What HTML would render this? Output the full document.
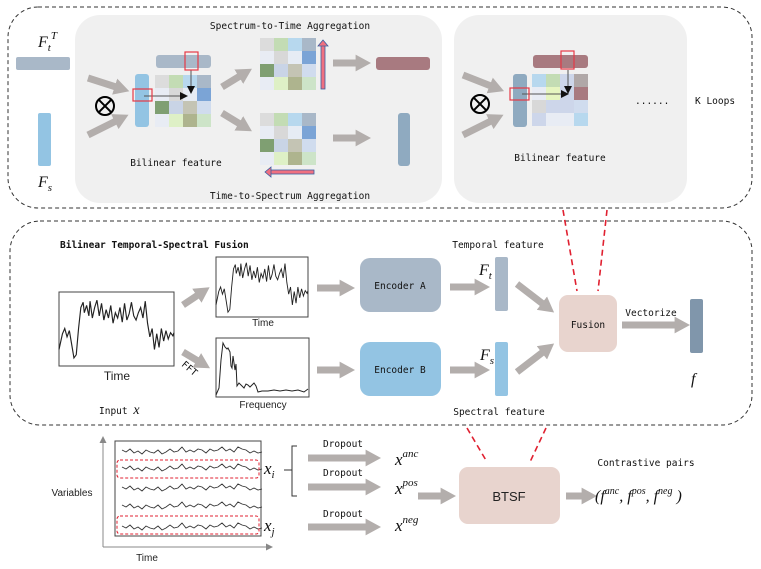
<!DOCTYPE html>
<html><head><meta charset="utf-8"><style>
html,body{margin:0;padding:0;background:#fff;}
svg{display:block;}
.m{font-family:"DejaVu Sans Mono","Liberation Mono",monospace;font-size:9.5px;fill:#111;}
.s{font-family:"Liberation Sans",sans-serif;fill:#222;}
.it{font-family:"Liberation Serif",serif;font-style:italic;fill:#111;}
</style></head><body>
<svg width="761" height="569" viewBox="0 0 761 569" xmlns="http://www.w3.org/2000/svg">
<defs>
<marker id="ah" markerWidth="2.2" markerHeight="2.4" refX="0.2" refY="1.2" orient="auto" markerUnits="strokeWidth">
<path d="M0,0 L2.2,1.2 L0,2.4 z" fill="#b3aeac"/></marker>
<marker id="bk" markerWidth="8" markerHeight="8" refX="7" refY="4" orient="auto" markerUnits="userSpaceOnUse">
<path d="M0,0 L8,4 L0,8 z" fill="#111"/></marker>
<path id="sig" d="M0,50 L3,35 5,30 7,38 9,32 11,45 13,58 15,55 17,30 19,10 21,5 22,15 24,8 26,18 27,4 29,20 31,10 33,3 35,18 37,6 39,22 41,12 43,20 45,8 47,25 49,15 51,20 53,10 55,24 57,6 59,22 61,16 63,5 65,18 67,22 69,15 71,10 73,20 75,4 77,25 79,38 81,30 83,50 85,35 87,48 89,30 91,42 93,32 95,40 97,34 99,37 100,34" fill="none" stroke="#222" stroke-width="1"/>
<path id="wig" d="M0,0 l4,2 4,-3 4,4 4,-2 4,3 4,-4 4,2 4,1 4,-3 4,4 4,-2 4,-3 4,3 4,-1 4,-4 4,5 4,-2 4,2 4,-3 4,1 4,3 4,-4 4,2 4,-1 4,-3 4,4 4,-2 4,3 4,-5 4,2 4,1 4,3 4,-2 4,2 4,-1" fill="none" stroke="#333" stroke-width="0.9"/>
<g id="mat1">
<rect x="0" y="0" width="14" height="13" fill="#dcdcdc"/><rect x="14" y="0" width="14" height="13" fill="#c3dcb4"/><rect x="28" y="0" width="14" height="13" fill="#b7d8ee"/><rect x="42" y="0" width="14" height="13" fill="#a9b8c8"/>
<rect x="0" y="13" width="14" height="13" fill="#e8ecf4"/><rect x="14" y="13" width="14" height="13" fill="#d8d8d8"/><rect x="28" y="13" width="14" height="13" fill="#e6ecf4"/><rect x="42" y="13" width="14" height="13" fill="#7ba4d6"/>
<rect x="0" y="26" width="14" height="13" fill="#7f9f72"/><rect x="14" y="26" width="14" height="13" fill="#c9d4e6"/><rect x="28" y="26" width="14" height="13" fill="#c4c4b4"/><rect x="42" y="26" width="14" height="13" fill="#d0dcee"/>
<rect x="0" y="39" width="14" height="13" fill="#e8ecf4"/><rect x="14" y="39" width="14" height="13" fill="#def0c6"/><rect x="28" y="39" width="14" height="13" fill="#aeb48e"/><rect x="42" y="39" width="14" height="13" fill="#cde4c8"/>
</g>
</defs>

<!-- TOP -->
<rect x="8" y="7" width="744" height="201" rx="30" fill="none" stroke="#333" stroke-dasharray="4,3"/>
<rect x="75" y="15" width="367" height="188" rx="25" fill="#f0f0f0"/>
<rect x="454" y="15" width="233" height="188" rx="25" fill="#f0f0f0"/>

<text x="38" y="47" class="it" font-size="16">F<tspan font-size="11" dy="4">t</tspan><tspan font-size="11" dy="-12">T</tspan></text>
<rect x="16" y="57" width="54" height="13" rx="2" fill="#a9b8c8"/>
<rect x="38" y="113" width="13" height="53" rx="2" fill="#93c4e3"/>
<text x="38" y="187" class="it" font-size="16">F<tspan font-size="11" dy="4">s</tspan></text>
<circle cx="105" cy="106" r="9" fill="none" stroke="#000" stroke-width="2"/>
<path d="M98.6,99.6 L111.4,112.4 M111.4,99.6 L98.6,112.4" stroke="#000" stroke-width="2"/>
<line x1="88" y1="78" x2="116" y2="87" stroke="#b3aeac" stroke-width="7" marker-end="url(#ah)"/>
<line x1="88" y1="135" x2="116" y2="121" stroke="#b3aeac" stroke-width="7" marker-end="url(#ah)"/>
<rect x="135" y="74" width="14" height="53" rx="3" fill="#93c4e3"/>
<rect x="156" y="55" width="55" height="13" rx="3" fill="#a9b8c8"/>
<use href="#mat1" x="155" y="75"/>
<line x1="144" y1="96" x2="187" y2="96" stroke="#555" stroke-width="1" marker-end="url(#bk)"/>
<line x1="191" y1="70" x2="191" y2="93" stroke="#555" stroke-width="1" marker-end="url(#bk)"/>
<rect x="185" y="52" width="13" height="18" fill="none" stroke="#e53946" stroke-width="1.2"/>
<rect x="133" y="89" width="19" height="12" fill="none" stroke="#e53946" stroke-width="1.2"/>
<text x="176" y="166" class="m" text-anchor="middle">Bilinear feature</text>

<line x1="222" y1="87" x2="240" y2="76" stroke="#b3aeac" stroke-width="7" marker-end="url(#ah)"/>
<line x1="222" y1="113" x2="240" y2="124" stroke="#b3aeac" stroke-width="7" marker-end="url(#ah)"/>
<use href="#mat1" x="260" y="38"/>
<use href="#mat1" x="260" y="113"/>
<rect x="321" y="45" width="4" height="44" fill="#f07080" stroke="#3a5fa0" stroke-width="0.8"/>
<path d="M318,46 L323,40 L328,46 z" fill="#f07080" stroke="#3a5fa0" stroke-width="0.8"/>
<rect x="270" y="170" width="44" height="4" fill="#f07080" stroke="#3a5fa0" stroke-width="0.8"/>
<path d="M271,167 L265,172 L271,177 z" fill="#f07080" stroke="#3a5fa0" stroke-width="0.8"/>
<line x1="333" y1="63" x2="357" y2="63" stroke="#b3aeac" stroke-width="7" marker-end="url(#ah)"/>
<line x1="333" y1="138" x2="357" y2="138" stroke="#b3aeac" stroke-width="7" marker-end="url(#ah)"/>
<rect x="376" y="57" width="54" height="13" rx="3" fill="#a87a80"/>
<rect x="398" y="113" width="12" height="53" rx="3" fill="#8faac0"/>
<text x="290" y="29" class="m" text-anchor="middle">Spectrum-to-Time Aggregation</text>
<text x="290" y="199" class="m" text-anchor="middle">Time-to-Spectrum Aggregation</text>

<!-- panel 2 -->
<line x1="463" y1="75" x2="491" y2="86" stroke="#b3aeac" stroke-width="7" marker-end="url(#ah)"/>
<line x1="463" y1="135" x2="491" y2="121" stroke="#b3aeac" stroke-width="7" marker-end="url(#ah)"/>
<circle cx="480" cy="104" r="9" fill="none" stroke="#000" stroke-width="2"/>
<path d="M473.6,97.6 L486.4,110.4 M486.4,97.6 L473.6,110.4" stroke="#000" stroke-width="2"/>
<rect x="513" y="74" width="14" height="53" rx="3" fill="#8faac0"/>
<rect x="533" y="55" width="55" height="13" rx="3" fill="#a87a80"/>
<g transform="translate(532,74)">
<rect x="0" y="0" width="14" height="13" fill="#b7d8ee"/><rect x="14" y="0" width="14" height="13" fill="#c3dcb4"/><rect x="28" y="0" width="14" height="13" fill="#cdd6ea"/><rect x="42" y="0" width="14" height="13" fill="#b0a8a8"/>
<rect x="0" y="13" width="14" height="13" fill="#e8ecf4"/><rect x="14" y="13" width="14" height="13" fill="#e6f5c0"/><rect x="28" y="13" width="14" height="13" fill="#cdd6ea"/><rect x="42" y="13" width="14" height="13" fill="#a87a80"/>
<rect x="0" y="26" width="14" height="13" fill="#d8d8d8"/><rect x="14" y="26" width="14" height="13" fill="#cdd6ea"/><rect x="28" y="26" width="14" height="13" fill="#cdd6ea"/><rect x="42" y="26" width="14" height="13" fill="#d0dcee"/>
<rect x="0" y="39" width="14" height="13" fill="#cdd6ea"/><rect x="14" y="39" width="14" height="13" fill="#e8ecf4"/><rect x="28" y="39" width="14" height="13" fill="#e8ecf4"/><rect x="42" y="39" width="14" height="13" fill="#b7d8ee"/>
</g>
<line x1="522" y1="94" x2="568" y2="94" stroke="#555" stroke-width="1" marker-end="url(#bk)"/>
<line x1="568" y1="70" x2="568" y2="93" stroke="#555" stroke-width="1" marker-end="url(#bk)"/>
<rect x="561" y="51" width="13" height="18" fill="none" stroke="#e53946" stroke-width="1.2"/>
<rect x="510" y="88" width="19" height="12" fill="none" stroke="#e53946" stroke-width="1.2"/>
<text x="560" y="161" class="m" text-anchor="middle">Bilinear feature</text>
<text x="635" y="104" class="m">......</text>
<text x="695" y="104" class="m">K Loops</text>

<!-- MIDDLE -->
<rect x="10" y="221" width="742" height="204" rx="30" fill="none" stroke="#333" stroke-dasharray="4,3"/>
<text x="60" y="248" class="m" font-weight="bold" font-size="10.5">Bilinear Temporal-Spectral Fusion</text>
<rect x="59" y="292" width="115" height="74" fill="#fff" stroke="#444"/>
<use href="#sig" transform="translate(59,297) scale(1.15,1.05)"/>
<text x="117" y="380" class="s" font-size="12" text-anchor="middle">Time</text>
<text x="180" y="368" class="m" font-size="8" transform="rotate(40 184 368)">FFT</text>
<text x="99" y="414" class="m">Input <tspan class="it" font-size="14">x</tspan></text>
<rect x="216" y="257" width="92" height="60" fill="#fff" stroke="#444"/>
<use href="#sig" transform="translate(216,260) scale(0.92,0.9)"/>
<text x="263" y="326" class="s" font-size="10" text-anchor="middle">Time</text>
<rect x="216" y="338" width="93" height="59" fill="#fff" stroke="#444"/>
<path d="M216,395 L219,388 221,360 223,343 225,347 227,349 228,348 230,352 231,366 232,368 233,356 235,370 236,364 237,386 239,383 242,386 244,388 246,384 248,385 250,387 252,385 254,383 256,386 258,392 262,391 268,391 274,390 280,391 286,390 292,391 298,390 304,392 308,389" fill="none" stroke="#222" stroke-width="1"/>
<text x="263" y="408" class="s" font-size="10" text-anchor="middle">Frequency</text>
<line x1="183" y1="305" x2="198" y2="295" stroke="#b3aeac" stroke-width="7" marker-end="url(#ah)"/>
<line x1="183" y1="352" x2="198" y2="361" stroke="#b3aeac" stroke-width="7" marker-end="url(#ah)"/>
<line x1="317" y1="288" x2="341" y2="288" stroke="#b3aeac" stroke-width="7" marker-end="url(#ah)"/>
<line x1="317" y1="370" x2="341" y2="370" stroke="#b3aeac" stroke-width="7" marker-end="url(#ah)"/>
<rect x="360" y="258" width="81" height="54" rx="10" fill="#a9b8c8"/>
<text x="400" y="289" class="m" text-anchor="middle">Encoder A</text>
<rect x="360" y="342" width="81" height="54" rx="10" fill="#93c4e3"/>
<text x="400" y="373" class="m" text-anchor="middle">Encoder B</text>
<line x1="450" y1="287" x2="476" y2="287" stroke="#b3aeac" stroke-width="7" marker-end="url(#ah)"/>
<line x1="450" y1="370" x2="476" y2="370" stroke="#b3aeac" stroke-width="7" marker-end="url(#ah)"/>
<rect x="495" y="257" width="13" height="54" rx="2" fill="#a9b8c8"/>
<rect x="495" y="342" width="13" height="54" rx="2" fill="#93c4e3"/>
<text x="479" y="275" class="it" font-size="16">F<tspan font-size="11" dy="4">t</tspan></text>
<text x="480" y="360" class="it" font-size="16">F<tspan font-size="11" dy="4">s</tspan></text>
<text x="498" y="248" class="m" text-anchor="middle">Temporal feature</text>
<text x="499" y="415" class="m" text-anchor="middle">Spectral feature</text>
<line x1="517" y1="284" x2="543" y2="304" stroke="#b3aeac" stroke-width="7" marker-end="url(#ah)"/>
<line x1="517" y1="372" x2="543" y2="352" stroke="#b3aeac" stroke-width="7" marker-end="url(#ah)"/>
<rect x="559" y="295" width="58" height="57" rx="9" fill="#e8d4ce"/>
<text x="588" y="328" class="m" text-anchor="middle">Fusion</text>
<line x1="563" y1="210" x2="577" y2="291" stroke="#e02030" stroke-width="1.6" stroke-dasharray="6,4"/>
<line x1="607" y1="210" x2="598" y2="291" stroke="#e02030" stroke-width="1.6" stroke-dasharray="6,4"/>
<line x1="622" y1="325" x2="676" y2="325" stroke="#b3aeac" stroke-width="7" marker-end="url(#ah)"/>
<text x="651" y="316" class="m" text-anchor="middle">Vectorize</text>
<rect x="690" y="299" width="13" height="54" rx="2" fill="#8096ab"/>
<text x="691" y="384" class="it" font-size="16">f</text>

<!-- BOTTOM -->
<line x1="467" y1="428" x2="487" y2="462" stroke="#e02030" stroke-width="1.6" stroke-dasharray="6,4"/>
<line x1="546" y1="428" x2="530" y2="462" stroke="#e02030" stroke-width="1.6" stroke-dasharray="6,4"/>
<rect x="459" y="467" width="101" height="57" rx="9" fill="#e8d4ce"/>
<text x="509" y="501" class="s" font-size="13" text-anchor="middle">BTSF</text>
<line x1="566" y1="496" x2="583" y2="496" stroke="#b3aeac" stroke-width="7" marker-end="url(#ah)"/>
<text x="595" y="501" class="it" font-size="16">(f<tspan font-size="10" dy="-7">anc</tspan><tspan dy="7">, f</tspan><tspan font-size="10" dy="-7">pos</tspan><tspan dy="7">, f</tspan><tspan font-size="10" dy="-7">neg</tspan><tspan dy="7"> )</tspan></text>
<text x="646" y="466" class="m" text-anchor="middle">Contrastive pairs</text>

<line x1="308" y1="458" x2="367" y2="458" stroke="#b3aeac" stroke-width="7" marker-end="url(#ah)"/>
<line x1="308" y1="487" x2="367" y2="487" stroke="#b3aeac" stroke-width="7" marker-end="url(#ah)"/>
<line x1="308" y1="527" x2="367" y2="527" stroke="#b3aeac" stroke-width="7" marker-end="url(#ah)"/>
<line x1="418" y1="496" x2="442" y2="496" stroke="#b3aeac" stroke-width="7" marker-end="url(#ah)"/>
<text x="343" y="447" class="m" text-anchor="middle">Dropout</text>
<text x="343" y="476" class="m" text-anchor="middle">Dropout</text>
<text x="343" y="517" class="m" text-anchor="middle">Dropout</text>
<text x="395" y="465" class="it" font-size="17">x<tspan font-size="11" dy="-8">anc</tspan></text>
<text x="395" y="494" class="it" font-size="17">x<tspan font-size="11" dy="-8">pos</tspan></text>
<text x="395" y="531" class="it" font-size="17">x<tspan font-size="11" dy="-8">neg</tspan></text>

<line x1="103" y1="547" x2="103" y2="442" stroke="#888"/>
<path d="M99.5,443 L103,436 L106.5,443 z" fill="#888"/>
<line x1="103" y1="547" x2="266" y2="547" stroke="#888"/>
<path d="M266,543.5 L273,547 L266,550.5 z" fill="#888"/>
<rect x="115" y="441" width="146" height="95" fill="#fff" stroke="#444"/>
<use href="#wig" x="122" y="450"/>
<use href="#wig" x="122" y="467"/>
<use href="#wig" x="122" y="487"/>
<use href="#wig" x="122" y="505"/>
<use href="#wig" x="122" y="526"/>
<rect x="117" y="460" width="142" height="18" rx="3" fill="none" stroke="#e02030" stroke-dasharray="3,2"/>
<rect x="117" y="516" width="142" height="18" rx="3" fill="none" stroke="#e02030" stroke-dasharray="3,2"/>
<text x="72" y="496" class="s" font-size="10" text-anchor="middle">Variables</text>
<text x="147" y="561" class="s" font-size="10" text-anchor="middle">Time</text>
<text x="264" y="474" class="it" font-size="17">x<tspan font-size="11" dy="4">i</tspan></text>
<text x="264" y="531" class="it" font-size="17">x<tspan font-size="11" dy="4">j</tspan></text>
<path d="M297,446 L292,446 L292,496 L297,496 M292,470 L284,470" fill="none" stroke="#333"/>
</svg>
</body></html>
